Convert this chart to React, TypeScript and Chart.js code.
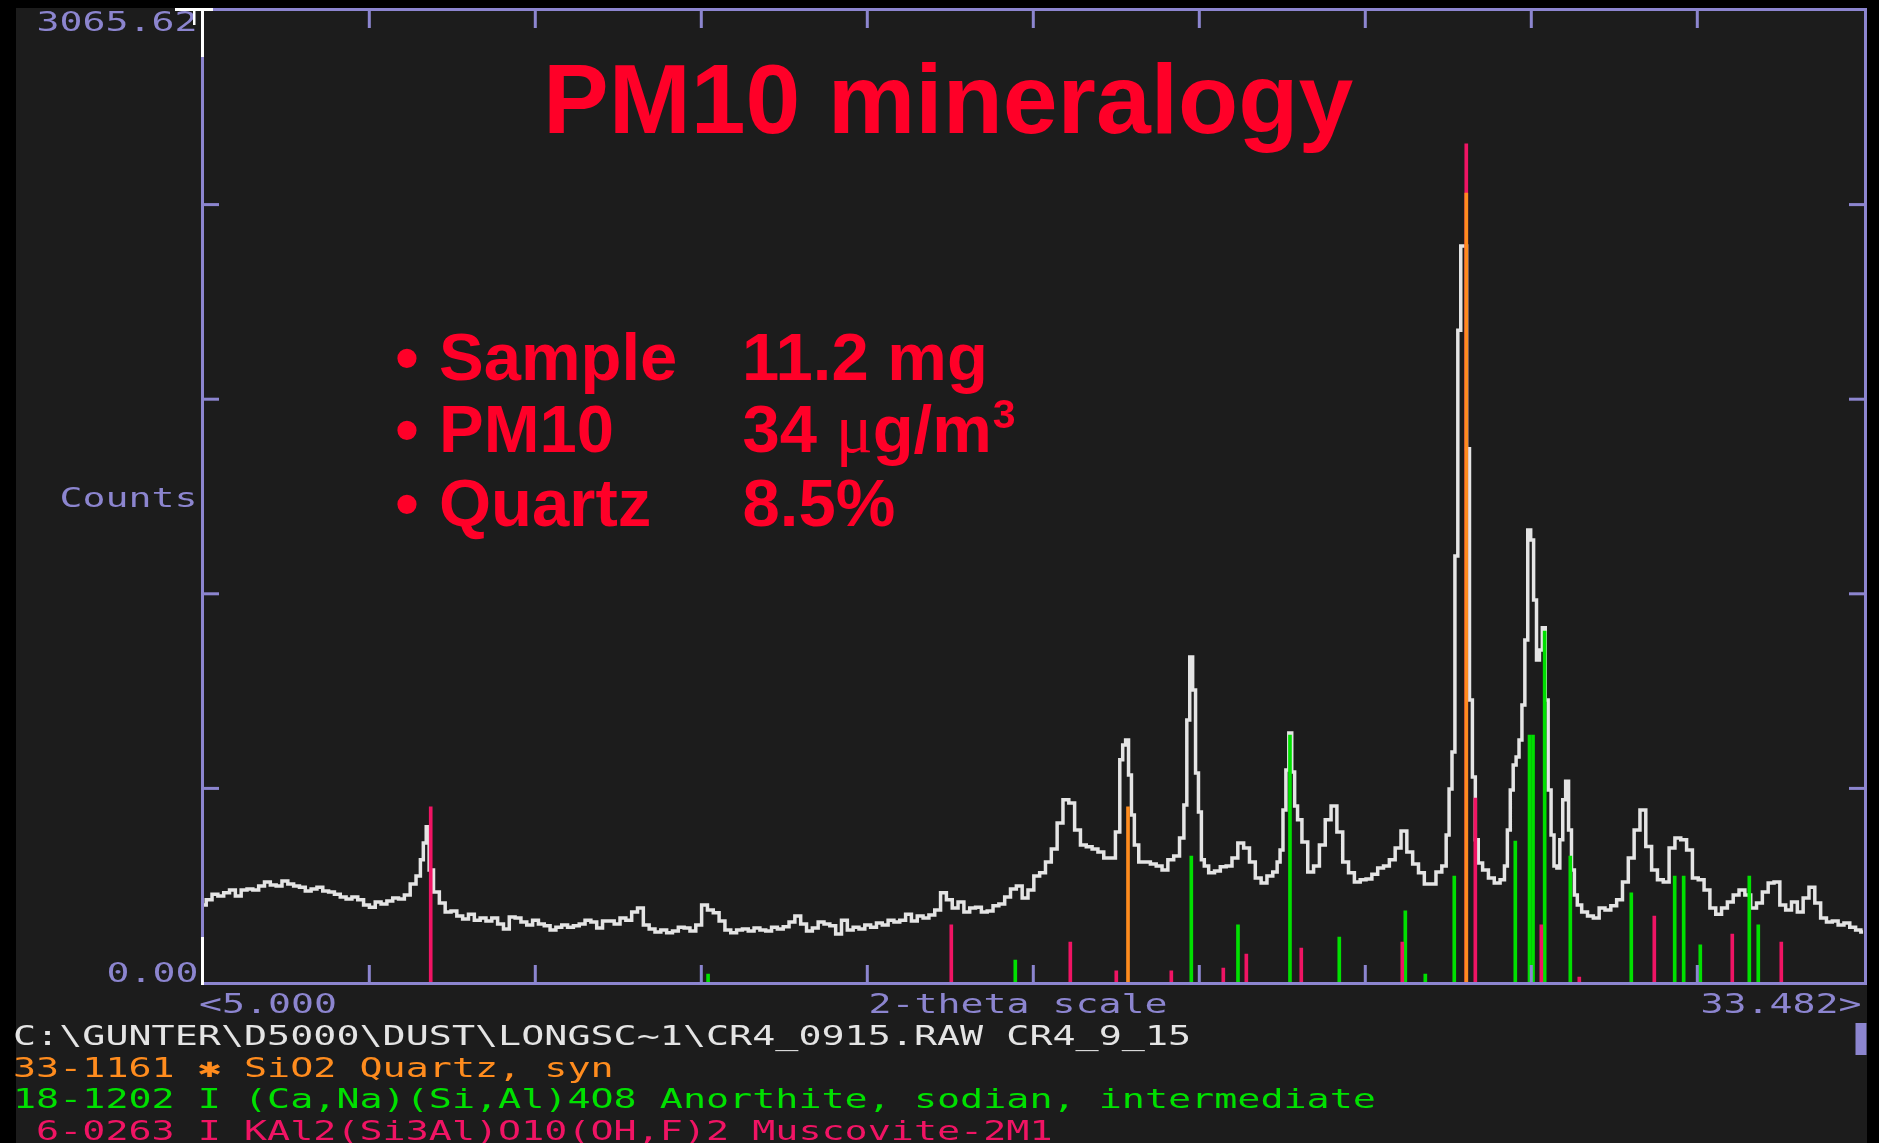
import React, { useEffect, useRef } from 'react';
import { Chart, registerables } from 'chart.js';

Chart.register(...registerables);

const W = 1879;
const H = 1143;

// ---- axis ranges / labels ----
const X_MIN = 5.0;
const X_MAX = 33.482;
const Y_MAX = 3065.62;
const X_DIVISIONS = 10;
const Y_DIVISIONS = 5;

const yTopLabel = '3065.62';
const yBottomLabel = '0.00';
const yAxisLabel = 'Counts';
const xLeftLabel = '<5.000';
const xRightLabel = '33.482>';
const xAxisLabel = '2-theta scale';

const titleText = 'PM10 mineralogy';
const bulletNames = ['Sample', 'PM10', 'Quartz'];
const bulletValues = ['11.2 mg', '34 ', '8.5%'];

const footerLines = [
  'C:\\GUNTER\\D5000\\DUST\\LONGSC~1\\CR4_0915.RAW CR4_9_15',
  '33-1161 \u2731 SiO2 Quartz, syn',
  '18-1202 I (Ca,Na)(Si,Al)4O8 Anorthite, sodian, intermediate',
  ' 6-0263 I KAl2(Si3Al)O10(OH,F)2 Muscovite-2M1',
];

// ---- measured diffraction pattern ----
const twoTheta = [
  5.0, 5.1, 5.2, 5.3, 5.4, 5.5, 5.6, 5.7, 5.8, 5.9,
  6.0, 6.1, 6.2, 6.3, 6.4, 6.5, 6.6, 6.7, 6.8, 6.9,
  7.0, 7.1, 7.2, 7.3, 7.4, 7.5, 7.6, 7.7, 7.8, 7.9,
  8.0, 8.1, 8.2, 8.3, 8.4, 8.5, 8.6, 8.7, 8.75, 8.8, 8.85, 8.9,
  9.0, 9.1, 9.2, 9.3, 9.4, 9.5, 9.6, 9.7, 9.8, 9.9,
  10.0, 10.1, 10.2, 10.3, 10.4, 10.5, 10.6, 10.7, 10.8, 10.9,
  11.0, 11.1, 11.2, 11.3, 11.4, 11.5, 11.6, 11.7, 11.8, 11.9,
  12.0, 12.1, 12.2, 12.3, 12.4, 12.5, 12.6, 12.7, 12.8, 12.9,
  13.0, 13.1, 13.2, 13.3, 13.4, 13.5, 13.6, 13.7, 13.8, 13.9,
  14.0, 14.1, 14.2, 14.3, 14.4, 14.5, 14.6, 14.7, 14.8, 14.9,
  15.0, 15.1, 15.2, 15.3, 15.4, 15.5, 15.6, 15.7, 15.8, 15.9,
  16.0, 16.1, 16.2, 16.3, 16.4, 16.5, 16.6, 16.7, 16.8, 16.9,
  17.0, 17.1, 17.2, 17.3, 17.4, 17.5, 17.6, 17.7, 17.8, 17.9,
  18.0, 18.1, 18.2, 18.3, 18.4, 18.5, 18.6, 18.7, 18.8, 18.9,
  19.0, 19.1, 19.2, 19.3, 19.4, 19.5, 19.6, 19.7, 19.8, 19.9,
  20.0, 20.1, 20.2, 20.3, 20.4, 20.5, 20.6, 20.7, 20.75, 20.8, 20.85, 20.9, 20.95,
  21.0, 21.1, 21.2, 21.3, 21.4, 21.5, 21.6, 21.7, 21.8, 21.85, 21.9, 21.95,
  22.0, 22.05, 22.1, 22.15, 22.2, 22.3, 22.4, 22.5, 22.6, 22.7, 22.8, 22.9,
  23.0, 23.1, 23.2, 23.3, 23.4, 23.45, 23.5, 23.55, 23.6, 23.65, 23.7, 23.75, 23.8, 23.9,
  24.0, 24.1, 24.2, 24.3, 24.4, 24.5, 24.6, 24.7, 24.8, 24.9,
  25.0, 25.1, 25.2, 25.3, 25.4, 25.5, 25.6, 25.7, 25.8, 25.9,
  26.0, 26.1, 26.2, 26.3, 26.35, 26.4, 26.45, 26.5, 26.55, 26.6, 26.65, 26.7, 26.75, 26.8, 26.85, 26.9,
  27.0, 27.1, 27.2, 27.3, 27.35, 27.4, 27.45, 27.5, 27.55, 27.6, 27.65, 27.7, 27.75, 27.8, 27.85, 27.9, 27.95,
  28.0, 28.05, 28.1, 28.15, 28.2, 28.25, 28.3, 28.35, 28.4, 28.45, 28.5, 28.55, 28.6, 28.7, 28.8, 28.9,
  29.0, 29.1, 29.2, 29.3, 29.4, 29.5, 29.6, 29.7, 29.8, 29.9,
  30.0, 30.1, 30.2, 30.3, 30.4, 30.5, 30.6, 30.7, 30.8, 30.9,
  31.0, 31.1, 31.2, 31.3, 31.4, 31.5, 31.6, 31.7, 31.8, 31.9,
  32.0, 32.1, 32.2, 32.3, 32.4, 32.5, 32.6, 32.7, 32.8, 32.9,
  33.0, 33.1, 33.2, 33.3, 33.4, 33.48,
];

const counts = [
  246, 262, 280, 274, 284, 293, 274, 293, 296, 293,
  306, 318, 309, 306, 321, 312, 306, 302, 290, 296,
  302, 290, 287, 280, 271, 265, 271, 262, 246, 239,
  255, 249, 258, 268, 265, 277, 312, 337, 388, 441, 492, 356,
  287, 252, 224, 227, 211, 202, 217, 198, 205, 195,
  205, 186, 170, 208, 205, 192, 183, 198, 186, 180,
  167, 176, 183, 176, 180, 186, 198, 192, 173, 195,
  195, 186, 205, 198, 224, 236, 183, 170, 161, 167,
  158, 164, 176, 173, 164, 183, 246, 230, 221, 195,
  167, 158, 167, 170, 164, 173, 167, 164, 176, 170,
  177, 192, 211, 186, 164, 173, 192, 186, 180, 154,
  198, 167, 176, 170, 183, 176, 189, 183, 198, 192,
  198, 217, 195, 211, 205, 214, 230, 284, 262, 236,
  255, 224, 236, 239, 224, 227, 243, 249, 271, 296,
  306, 268, 293, 337, 347, 381, 422, 504, 577, 567,
  482, 435, 429, 422, 413, 394, 394, 476, 703, 750, 766, 655, 529,
  435, 381, 381, 375, 369, 356, 388, 400, 457, 561, 829, 1027,
  923, 662, 539, 388, 369, 347, 353, 366, 369, 394, 441, 425,
  381, 331, 315, 337, 350, 381, 419, 545, 671, 788, 665, 558, 514, 444,
  350, 369, 435, 514, 558, 476, 381, 347, 318, 325,
  328, 343, 362, 369, 388, 425, 479, 413, 375, 347,
  312, 312, 350, 369, 466, 611, 728, 1345, 2057, 2322, 2322, 1683, 892, 649, 451, 378,
  356, 331, 315, 325, 369, 482, 608, 687, 712, 766, 876, 1081, 1427, 1396, 1207, 1018, 1049,
  1119, 892, 608, 466, 369, 362, 451, 577, 636, 482, 356, 277, 246, 224, 211, 205,
  236, 230, 243, 262, 318, 394, 482, 545, 430, 356,
  325, 318, 425, 457, 451, 419, 331, 325, 293, 236,
  217, 236, 255, 277, 293, 277, 236, 252, 287, 315,
  318, 246, 230, 255, 224, 268, 302, 252, 205, 192,
  195, 183, 189, 176, 167, 161,
];

// ---- reference stick patterns (2-theta, intensity in counts scale) ----
const quartzPos = [20.866, 26.67];
const quartzInt = [555, 2489];

const muscovitePos = [
  8.902, 17.834, 19.876, 20.665, 21.609, 22.501, 22.896, 23.839, 25.572,
  26.67, 26.825, 27.957, 28.609, 29.896, 31.234, 32.075,
];
const muscoviteInt = [
  555, 183, 129, 38, 38, 47, 91, 110, 129,
  2644, 583, 183, 19, 211, 154, 129,
];

const anorthitePos = [
  13.661, 18.932, 21.952, 22.753, 23.645, 24.491, 25.624, 25.967, 26.464,
  27.511, 27.755, 27.815, 28.015, 28.455, 29.501, 30.246, 30.4, 30.685,
  31.526, 31.68,
];
const anorthiteInt = [
  28, 72, 400, 183, 781, 145, 227, 28, 337,
  447, 781, 781, 1109, 400, 284, 337, 337, 120,
  337, 183,
];

// ---- styles ----
const BG = '#1c1c1c';
const LAV = '#8c85cf';
const WHITE = '#e4e4e4';
const ORANGE = '#ff8c1e';
const GREEN = '#00e000';
const PINK = '#f01464';
const RED = '#ff0028';
const footerColors = [WHITE, ORANGE, GREEN, PINK];

const pairs = (xs: number[], ys: number[]) => xs.map((x, i) => ({ x, y: ys[i] }));

function pixText(ctx: CanvasRenderingContext2D, s: string, x: number, base: number, color: string, adv = 23) {
  ctx.save();
  ctx.font = '27px "DejaVu Sans Mono", monospace';
  const w0 = ctx.measureText('0').width;
  const sx = adv / w0;
  ctx.fillStyle = color;
  ctx.textBaseline = 'alphabetic';
  ctx.textAlign = 'left';
  ctx.translate(x, base);
  ctx.scale(sx, 1);
  ctx.fillText(s, 0, 0);
  ctx.restore();
}

const screenPlugin = {
  id: 'screen',
  beforeDraw(chart: any) {
    const ctx: CanvasRenderingContext2D = chart.ctx;
    ctx.save();
    ctx.fillStyle = '#000';
    ctx.fillRect(0, 0, W, H);
    ctx.fillStyle = BG;
    ctx.fillRect(16, 8, 1851, H - 8);
    ctx.restore();
  },
  afterDatasetsDraw(chart: any) {
    const ctx: CanvasRenderingContext2D = chart.ctx;
    const xs = chart.scales.x;
    const ys = chart.scales.y;
    ctx.save();
    ctx.fillStyle = LAV;
    // frame
    ctx.fillRect(201, 8, 1666, 3);
    ctx.fillRect(201, 982, 1666, 3);
    ctx.fillRect(201, 8, 3, 977);
    ctx.fillRect(1864, 8, 3, 977);
    // x ticks (top and bottom, inward)
    for (let k = 1; k < X_DIVISIONS; k++) {
      const v = X_MIN + (k * (X_MAX - X_MIN)) / X_DIVISIONS;
      const px = xs.getPixelForValue(v);
      ctx.fillRect(px - 1.5, 11, 3, 17);
      ctx.fillRect(px - 1.5, 965, 3, 17);
    }
    // y ticks (left and right, inward)
    for (let k = 1; k < Y_DIVISIONS; k++) {
      const py = ys.getPixelForValue((k * Y_MAX) / Y_DIVISIONS);
      ctx.fillRect(204, py - 1.5, 15, 3);
      ctx.fillRect(1849, py - 1.5, 15, 3);
    }
    // cursor block at right
    ctx.fillRect(1855.5, 1023, 11, 32);
    ctx.restore();
  },
  afterDraw(chart: any) {
    const ctx: CanvasRenderingContext2D = chart.ctx;
    // axis texts
    pixText(ctx, yTopLabel, 36.5, 31, LAV);
    pixText(ctx, yAxisLabel, 59.5, 507, LAV);
    pixText(ctx, yBottomLabel, 106.5, 982, LAV);
    pixText(ctx, xLeftLabel, 199, 1013, LAV);
    pixText(ctx, xAxisLabel, 868.5, 1013, LAV);
    pixText(ctx, xRightLabel, 1700.5, 1013, LAV);
    const bases = [1045, 1077, 1108, 1140];
    footerLines.forEach((t, i) => pixText(ctx, t, 13, bases[i], footerColors[i], 23.1));

    // white cursor marks
    ctx.save();
    ctx.fillStyle = '#ffffff';
    ctx.fillRect(175, 8, 38, 3);
    ctx.fillRect(201, 8, 3, 49);
    ctx.fillRect(193, 8, 2.5, 17);
    ctx.fillRect(201, 937, 3, 48);
    ctx.restore();

    // title and bullets
    ctx.save();
    ctx.fillStyle = RED;
    ctx.textBaseline = 'alphabetic';
    ctx.textAlign = 'left';
    ctx.font = 'bold 98.5px "Liberation Sans", Arial, sans-serif';
    ctx.fillText(titleText, 543, 133);

    const bold = 'bold 67px "Liberation Sans", Arial, sans-serif';
    const rowBase = [380, 452, 526];
    ctx.font = bold;
    rowBase.forEach((b, i) => {
      ctx.textAlign = 'center';
      ctx.fillText('\u2022', 407, b);
      ctx.textAlign = 'left';
      ctx.fillText(bulletNames[i], 439, b);
    });
    ctx.fillText(bulletValues[0], 742, rowBase[0]);
    ctx.fillText(bulletValues[2], 742.5, rowBase[2]);
    // "34 µg/m³"
    let x = 742.5;
    ctx.fillText(bulletValues[1], x, rowBase[1]);
    x += ctx.measureText(bulletValues[1]).width;
    ctx.font = '69px "Liberation Serif", "Times New Roman", serif';
    ctx.fillText('\u03bc', x, rowBase[1]);
    x += ctx.measureText('\u03bc').width;
    ctx.font = bold;
    ctx.fillText('g/m', x, rowBase[1]);
    x += ctx.measureText('g/m').width;
    ctx.font = 'bold 41px "Liberation Sans", Arial, sans-serif';
    ctx.fillText('3', x + 1, rowBase[1] - 24);
    ctx.restore();
  },
};

export default function App() {
  const ref = useRef<HTMLCanvasElement | null>(null);

  useEffect(() => {
    document.body.style.margin = '0';
    document.body.style.background = '#000';
    const canvas = ref.current;
    if (!canvas) return;
    const stick = (label: string, pos: number[], ints: number[], color: string, order: number) => ({
      type: 'bar' as const,
      label,
      data: pairs(pos, ints),
      backgroundColor: color,
      borderWidth: 0,
      barThickness: 3,
      grouped: false,
      order,
    });
    const chart = new Chart(canvas, {
      type: 'line',
      data: {
        datasets: [
          stick('33-1161 Quartz', quartzPos, quartzInt, ORANGE, 0) as any,
          stick('6-0263 Muscovite-2M1', muscovitePos, muscoviteInt, PINK, 1) as any,
          stick('18-1202 Anorthite', anorthitePos, anorthiteInt, GREEN, 2) as any,
          {
            type: 'line',
            label: 'CR4_9_15',
            data: pairs(twoTheta, counts),
            borderColor: WHITE,
            borderWidth: 3.5,
            pointRadius: 0,
            stepped: 'middle',
            fill: false,
            order: 3,
          } as any,
        ],
      },
      options: {
        animation: false,
        responsive: false,
        devicePixelRatio: 1,
        events: [],
        layout: { padding: { left: 203.3, right: W - 1863.3, top: 10, bottom: H - 983 } },
        scales: {
          x: { type: 'linear', min: X_MIN, max: X_MAX, display: false, offset: false },
          y: { type: 'linear', min: 0, max: Y_MAX, display: false },
        },
        plugins: {
          legend: { display: false },
          tooltip: { enabled: false },
          title: { display: false },
        },
      },
      plugins: [screenPlugin],
    });
    return () => chart.destroy();
  }, []);

  return (
    <div style={{ position: 'fixed', left: 0, top: 0, width: W, height: H, background: '#000' }}>
      <canvas ref={ref} width={W} height={H} style={{ display: 'block', width: W, height: H }} />
    </div>
  );
}
